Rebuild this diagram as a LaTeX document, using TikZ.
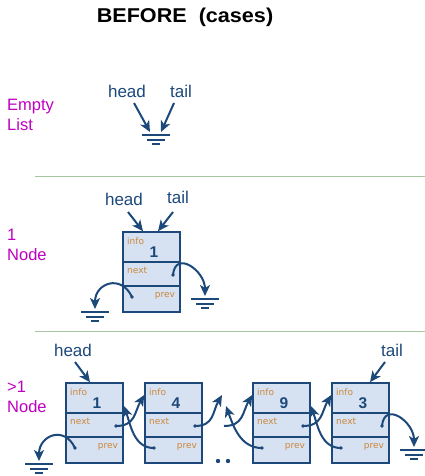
\documentclass[tikz,border=0pt]{standalone}
\usepackage{fontspec}
\setmainfont{Liberation Sans}
\newfontfamily\handfont{DejaVu Sans}
\usetikzlibrary{arrows.meta}
\definecolor{dblue}{RGB}{28,72,122}
\definecolor{boxfill}{RGB}{214,226,241}
\definecolor{lblorange}{RGB}{205,135,60}
\definecolor{mag}{RGB}{192,0,192}
\definecolor{sepgreen}{RGB}{165,198,160}
\tikzset{
 cell/.style={draw=dblue, fill=boxfill, line width=1.6pt, minimum width=57pt, inner sep=0pt, rectangle},
 fld/.style={font=\handfont\fontsize{9}{10}\selectfont, text=lblorange, inner sep=0pt},
 val/.style={font=\bfseries\fontsize{15.5}{17}\selectfont, text=dblue, inner sep=0pt},
 ptr/.style={font=\fontsize{17}{19}\selectfont, text=dblue, inner sep=0pt},
 case/.style={font=\fontsize{16.5}{20}\selectfont, text=mag, align=left, anchor=west, inner sep=0pt},
 link/.style={draw=dblue, line width=2pt, -{Stealth[length=11pt,width=10pt,inset=3pt]}},
 gline/.style={draw=dblue, line width=2pt},
 sep/.style={draw=sepgreen, line width=1pt},
}
\newcommand\gnd[3]{%
 \coordinate (#1) at (#2,#3);
 \draw[gline] (#2-14,#3+3) -- (#2+14,#3+3);
 \draw[gline] (#2-9,#3+7.5) -- (#2+9,#3+7.5);
 \draw[gline] (#2-4,#3+12) -- (#2+4,#3+12);}
\newcommand\dnode[4]{%
 \node[cell, minimum height=30pt] (#1-info) at (#2+28.5,#3+15) {};
 \node[cell, minimum height=24pt] (#1-next) at (#2+28.5,#3+42) {};
 \node[cell, minimum height=26pt] (#1-prev) at (#2+28.5,#3+67) {};
 \node[fld, anchor=west] (#1-il) at (#2+4,#3+9) {info};
 \node[val] (#1-v) at (#2+31,#3+20) {#4};
 \node[fld, anchor=west] (#1-nl) at (#2+4,#3+38) {next};
 \node[fld] (#1-pl) at (#2+42,#3+64) {prev};
 \coordinate (#1-nd) at (#2+50,#3+43);
 \coordinate (#1-pd) at (#2+9,#3+65);
 \fill[dblue] (#1-nd) circle (1.8pt);
 \fill[dblue] (#1-pd) circle (1.8pt);}
\begin{document}
\begin{tikzpicture}[x=1pt,y=-1pt]
\useasboundingbox (0,0) rectangle (425,476);
\node[font=\bfseries\fontsize{20}{22}\selectfont] (title) at (185,17) {\scalebox{1.08}[1]{BEFORE\ \ (cases)}};
% separators
\draw[sep] (35,176) -- (425,176);
\draw[sep] (35,331) -- (425,331);
% case labels
\node[case] (c0) at (7,115) {Empty\\List};
\node[case] (c1) at (7,245) {1\\Node};
\node[case] (c2) at (7,397) {>1\\Node};
% ---- empty list
\node[ptr] (hd0) at (127,91) {head};
\node[ptr] (tl0) at (181,91) {tail};
\gnd{g0}{156}{132}
\coordinate (g0a) at (150,132);
\coordinate (g0b) at (161,132);
\coordinate (hs0) at (134,103);
\coordinate (ts0) at (174,103);
\draw[link] (hs0) -- (g0a);
\draw[link] (ts0) -- (g0b);
% ---- one node
\node[ptr] (hd1) at (124,199) {head};
\node[ptr] (tl1) at (178,197) {tail};
\dnode{n}{123}{232}{1}
\coordinate (hs1) at (128,212);
\coordinate (ts1) at (173,212);
\draw[link] (hs1) -- ([xshift=-8.5pt]n-info.north);
\draw[link] (ts1) -- ([xshift=6.5pt]n-info.north);
\gnd{g1r}{205}{296}
\gnd{g1l}{95}{309}
\draw[link] (n-nd) to[out=85,in=90,looseness=1.7] (g1r);
\draw[link] (n-pd) to[out=115,in=90,looseness=1.7] (g1l);
% ---- more nodes
\node[ptr] (hd2) at (73,350) {head};
\node[ptr] (tl2) at (392,350) {tail};
\dnode{a}{66}{383}{1}
\dnode{b}{145}{383}{4}
\dnode{c}{253}{383}{9}
\dnode{d}{332}{383}{3}
\coordinate (hs2) at (75,362);
\coordinate (ts2) at (385,362);
\draw[link] (hs2) -- ([xshift=-4.5pt]a-info.north);
\draw[link] (ts2) -- ([xshift=9.5pt]d-info.north);
\gnd{g2l}{39}{461}
\gnd{g2r}{414}{447}
\draw[link] (a-pd) to[out=115,in=90,looseness=1.7] (g2l);
\draw[link] (d-nd) to[out=85,in=90,looseness=1.7] (g2r);
% a <-> b
\draw[link] (a-nd) to[out=0,in=240,looseness=1.2] ([yshift=3pt]b-info.west);
\draw[link] (b-pd) to[out=180,in=-70] ([yshift=-8pt]a-info.east);
% b -> gap -> c
\coordinate (k1) at (222,395);
\coordinate (k2) at (224,426);
\coordinate (k3) at (226,406);
\draw[link] (b-nd) to[out=0,in=240,looseness=1.2] (k1);
\draw[link] (k2) to[out=0,in=240,looseness=1.2] ([yshift=3pt]c-info.west);
\draw[link] (c-pd) to[out=180,in=-70] (k3);
% c <-> d
\draw[link] (c-nd) to[out=0,in=240,looseness=1.2] ([yshift=3pt]d-info.west);
\draw[link] (d-pd) to[out=180,in=-70] ([yshift=-8pt]c-info.east);
% dots
\fill[dblue] (218,461) circle (2.2pt);
\fill[dblue] (228,461) circle (2.2pt);
\end{tikzpicture}
\end{document}
